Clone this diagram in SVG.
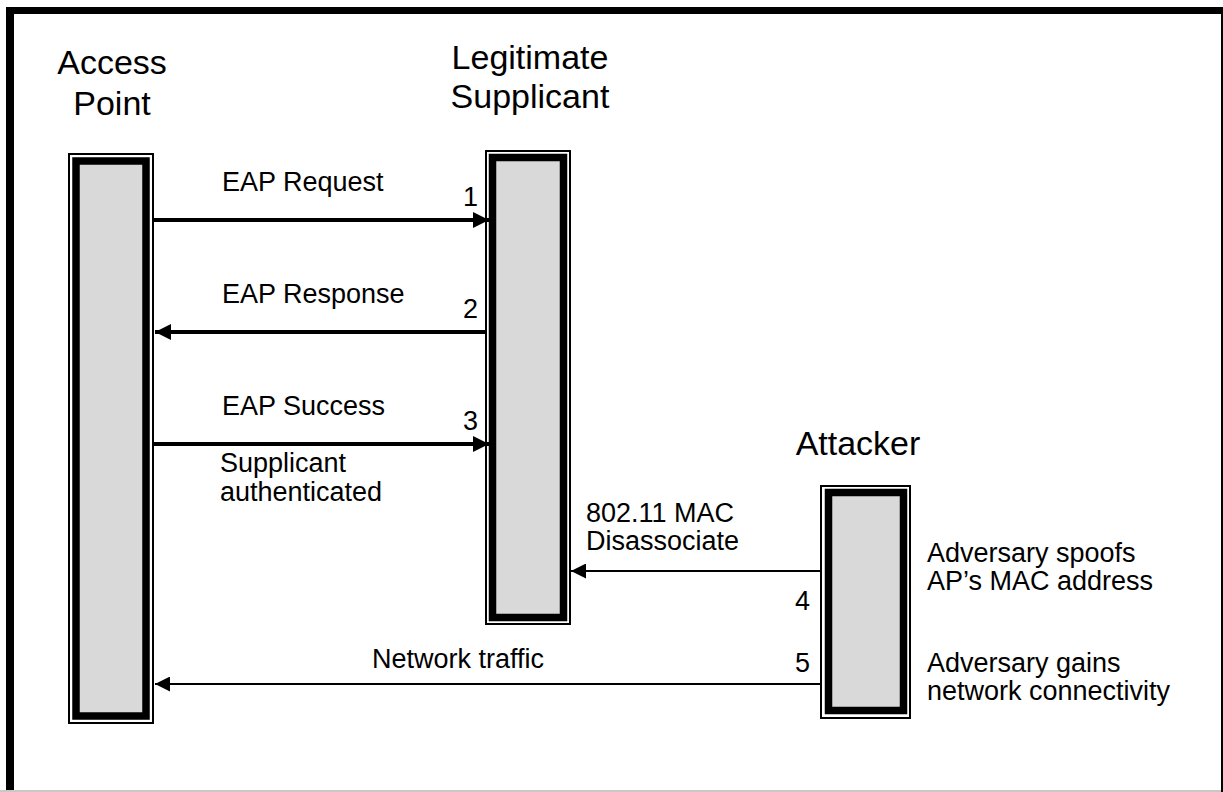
<svg xmlns="http://www.w3.org/2000/svg" width="1223" height="792" viewBox="0 0 1223 792">
<style>
.outer{fill:none;stroke:#000;stroke-width:2}
.inner{fill:#d9d9d9;stroke:#000;stroke-width:7.5}
.hdr{font-family:"Liberation Sans",Arial,sans-serif;font-size:34px;fill:#000;text-anchor:middle}
.lbl{font-family:"Liberation Sans",Arial,sans-serif;font-size:27px;fill:#000}
.thick{stroke:#000;stroke-width:4;fill:none}
.thin{stroke:#000;stroke-width:2;fill:none}
</style>
<defs>
<marker id="ahT" markerUnits="userSpaceOnUse" markerWidth="16" markerHeight="16" viewBox="0 0 16 16" refX="16" refY="8" orient="auto"><path d="M0,0 L16,8 L0,16 Z" fill="#000"/></marker>
<marker id="ahS" markerUnits="userSpaceOnUse" markerWidth="15" markerHeight="15" viewBox="0 0 15 15" refX="15" refY="7.5" orient="auto"><path d="M0,0 L15,7.5 L0,15 Z" fill="#000"/></marker>
</defs>
<rect x="0" y="0" width="1223" height="792" fill="#fff"/>
<g id="frame">
<rect x="6" y="7" width="8" height="785" fill="#000"/>
<rect x="6" y="7" width="1217" height="7" fill="#000"/>
<rect x="1221" y="7" width="2" height="785" fill="#000"/>
<rect x="0" y="790" width="1221" height="2" fill="#c8c8c8"/>
</g>
<g id="node-ap">
<rect class="outer" x="69" y="154" width="84" height="569"/>
<rect class="inner" x="76" y="161" width="70" height="555"/>
<text class="hdr" x="112" y="74">Access</text>
<text class="hdr" x="112" y="115">Point</text>
</g>
<g id="node-supplicant">
<rect class="outer" x="486" y="151" width="84" height="473"/>
<rect class="inner" x="492.5" y="157.5" width="71" height="460"/>
<text class="hdr" x="530" y="69">Legitimate</text>
<text class="hdr" x="530" y="108">Supplicant</text>
</g>
<g id="node-attacker">
<rect class="outer" x="821" y="486" width="89" height="232"/>
<rect class="inner" x="828.5" y="492.5" width="75" height="218"/>
<text class="hdr" x="858" y="455">Attacker</text>
</g>
<g id="connectors">
<line class="thick" x1="154" y1="220" x2="489" y2="220" marker-end="url(#ahT)"/>
<line class="thick" x1="485" y1="332" x2="155" y2="332" marker-end="url(#ahT)"/>
<line class="thick" x1="154" y1="444" x2="489" y2="444" marker-end="url(#ahT)"/>
<line class="thin" x1="820" y1="571" x2="571" y2="571" marker-end="url(#ahS)"/>
<line class="thin" x1="820" y1="684" x2="155" y2="684" marker-end="url(#ahS)"/>
</g>
<g id="labels">
<text class="lbl" x="222" y="191">EAP Request</text>
<text class="lbl" x="463" y="206">1</text>
<text class="lbl" x="222" y="303">EAP Response</text>
<text class="lbl" x="463" y="318">2</text>
<text class="lbl" x="222" y="415">EAP Success</text>
<text class="lbl" x="463" y="430">3</text>
<text class="lbl" x="220" y="472">Supplicant</text>
<text class="lbl" x="220" y="501">authenticated</text>
<text class="lbl" x="586" y="522">802.11 MAC</text>
<text class="lbl" x="586" y="550">Disassociate</text>
<text class="lbl" x="927" y="562">Adversary spoofs</text>
<text class="lbl" x="927" y="590">AP’s MAC address</text>
<text class="lbl" x="795" y="610">4</text>
<text class="lbl" x="795" y="672">5</text>
<text class="lbl" x="372" y="668">Network traffic</text>
<text class="lbl" x="927" y="672">Adversary gains</text>
<text class="lbl" x="927" y="700">network connectivity</text>
</g>
</svg>
